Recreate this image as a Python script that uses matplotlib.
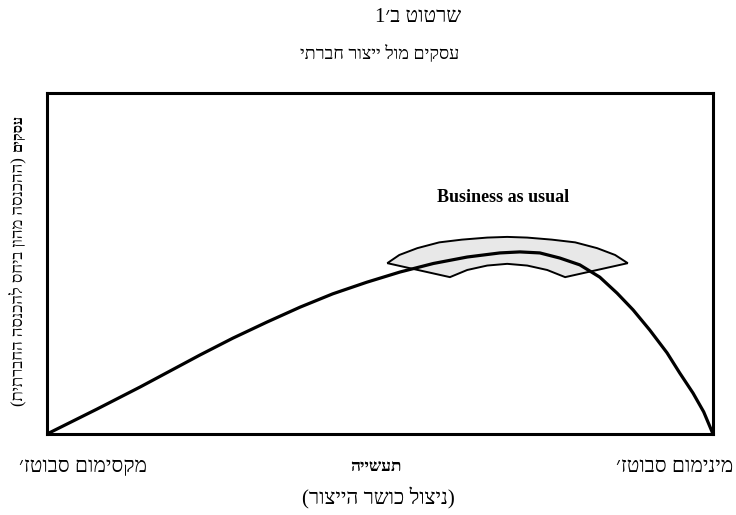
import matplotlib
matplotlib.use('Agg')
import matplotlib.pyplot as plt
import numpy as np

plt.rcParams['font.family'] = ['Liberation Serif', 'DejaVu Serif', 'DejaVu Sans']

# --- data (x: 0-100 across the box, y: 0-100 up the box)
curve_x = [0, 7.5, 14.0, 18.5, 23.0, 27.9, 33.0, 38.0, 42.9, 48.0, 53.0, 58.0, 63.1, 68.0, 71.0,
           74.0, 77.0, 80.0, 83.0, 85.6, 88.0, 90.5, 93.1, 95.0, 97.0, 98.6, 100]
curve_y = [0, 7.3, 13.8, 18.5, 23.2, 28.1, 32.8, 37.2, 41.1, 44.5, 47.5, 50.0, 51.9, 53.1, 53.4,
           53.1, 51.6, 49.6, 46.0, 41.3, 36.4, 30.5, 23.8, 17.9, 12.0, 6.5, 0]

band_outer_x = [51.1, 52.9, 55.6, 58.9, 62.3, 66.1, 69.1, 72.1, 75.8, 79.3, 82.6, 85.3, 87.2]
band_outer_y = [50.1, 52.5, 54.5, 56.2, 57.0, 57.6, 57.8, 57.6, 57.0, 56.2, 54.5, 52.5, 50.1]
band_inner_x = [77.8, 75.1, 72.1, 69.1, 66.1, 63.1, 60.5]
band_inner_y = [46.0, 48.1, 49.4, 49.9, 49.4, 48.1, 46.0]

title_lines = ['שרטוט ב׳1', 'עסקים מול ייצור חברתי']
y_label_bold = 'עסקים'
y_label_rest = '(ההכנסה מהון ביחס להכנסה החברתית)'
x_left = 'מקסימום סבוטז׳'
x_mid = 'תעשייה'
x_right = 'מינימום סבוטז׳'
x_sub = '(ניצול כושר הייצור)'
band_label = 'Business as usual'


def rtl(s):
    # matplotlib has no bidi support: reverse, then mirror parentheses
    s = s[::-1]
    return s.translate(str.maketrans('()', ')('))


fig = plt.figure(figsize=(7.36, 5.15), dpi=100)
ax = fig.add_axes([47 / 736, 81 / 515, 666 / 736, 341 / 515])
ax.set_xlim(0, 100)
ax.set_ylim(0, 100)
ax.set_xticks([])
ax.set_yticks([])
for sp in ax.spines.values():
    sp.set_linewidth(2.2)

# band polygon
bx = band_outer_x + band_inner_x
by = band_outer_y + band_inner_y
ax.fill(bx, by, facecolor='#e8e8e8', edgecolor='black', linewidth=1.4, joinstyle='miter', zorder=2)

ax.plot(curve_x, curve_y, color='black', linewidth=2.3, solid_joinstyle='round', zorder=3)

ax.text(68.5, 69.5, band_label, ha='center', va='center', fontsize=13, fontweight='bold')

# titles
fig.text(418 / 736, 1 - 18 / 515, rtl(title_lines[0]), ha='center', va='center', fontsize=15)
fig.text(380 / 736, 1 - 54 / 515, rtl(title_lines[1]), ha='center', va='center', fontsize=13)

# y label (two parts)
fig.text(18 / 736, 1 - 132 / 515, rtl(y_label_bold), ha='center', va='center', rotation=90, fontsize=10.5, fontweight='bold')
fig.text(18 / 736, 1 - 282 / 515, rtl(y_label_rest), ha='center', va='center', rotation=90, fontsize=12)

# x labels
fig.text(83 / 736, 1 - 467 / 515, rtl(x_left), ha='center', va='center', fontsize=15)
fig.text(376 / 736, 1 - 467 / 515, rtl(x_mid), ha='center', va='center', fontsize=12.5, fontweight='bold')
fig.text(675 / 736, 1 - 467 / 515, rtl(x_right), ha='center', va='center', fontsize=15)
fig.text(378 / 736, 1 - 498 / 515, rtl(x_sub), ha='center', va='center', fontsize=15)

fig.savefig('out.png', dpi=100)
